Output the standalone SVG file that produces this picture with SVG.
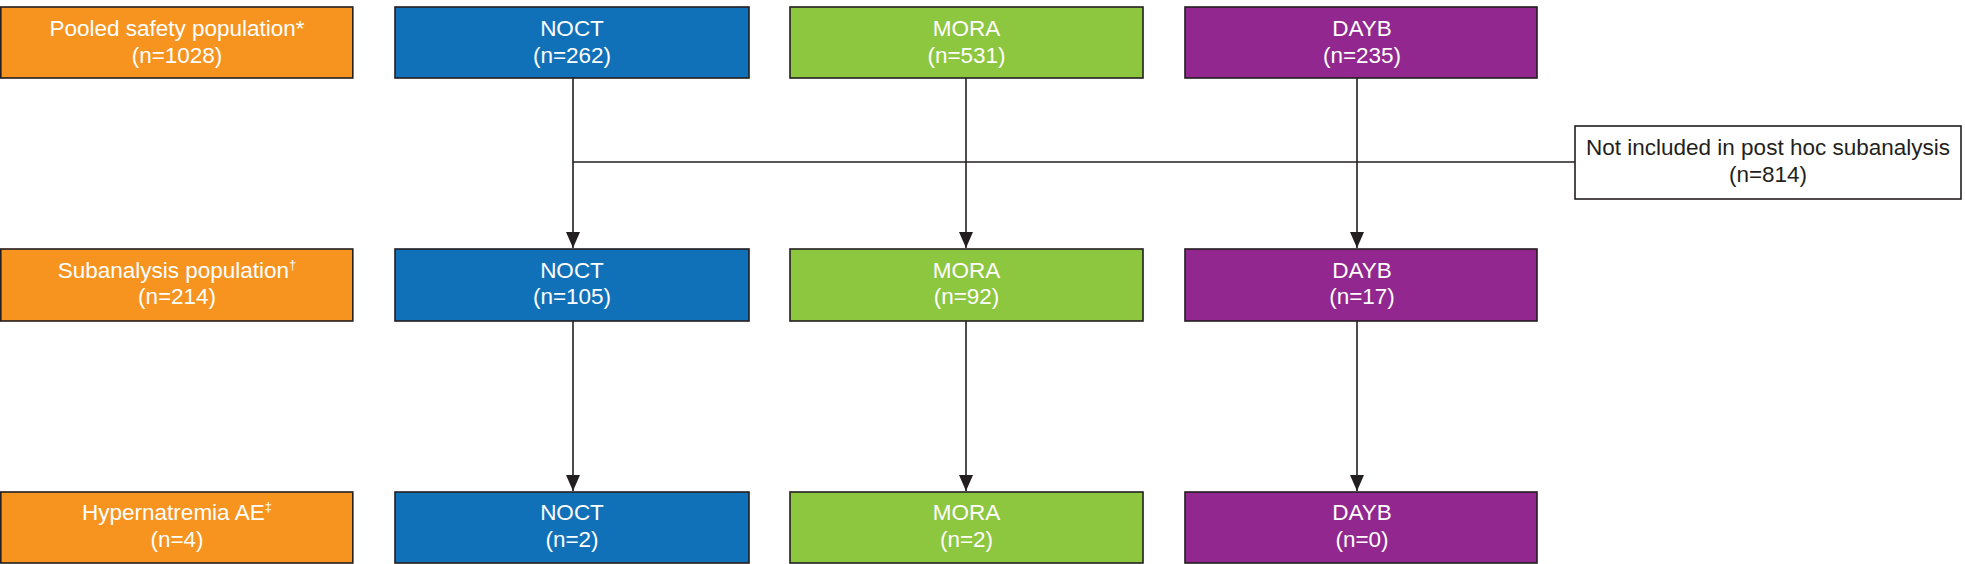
<svg xmlns="http://www.w3.org/2000/svg" width="1965" height="564" viewBox="0 0 1965 564">
<defs>
<style>
.box{stroke:#231f20;stroke-width:1.6}
.or{fill:#f6941f}
.bl{fill:#1071b9}
.gr{fill:#8dc63f}
.pu{fill:#92278f}
.wh{fill:#ffffff}
text{font-family:"Liberation Sans",Arial,sans-serif;font-size:22.5px;text-anchor:middle}
.lt{fill:#ffffff}
.dk{fill:#231f20}
.sup{font-size:13px}
.conn{stroke:#231f20;stroke-width:1.6;fill:none}
</style>
<marker id="arr" viewBox="0 0 16 14" refX="16" refY="7" markerWidth="16" markerHeight="14" markerUnits="userSpaceOnUse" orient="auto">
<path d="M0,0 L16,7 L0,14 Z" fill="#231f20"/>
</marker>
</defs>
<g id="connectors">
<line class="conn" x1="573" y1="78" x2="573" y2="248" marker-end="url(#arr)"/>
<line class="conn" x1="966" y1="78" x2="966" y2="248" marker-end="url(#arr)"/>
<line class="conn" x1="1357" y1="78" x2="1357" y2="248" marker-end="url(#arr)"/>
<line class="conn" x1="573" y1="162" x2="1575" y2="162"/>
<line class="conn" x1="573" y1="321" x2="573" y2="491" marker-end="url(#arr)"/>
<line class="conn" x1="966" y1="321" x2="966" y2="491" marker-end="url(#arr)"/>
<line class="conn" x1="1357" y1="321" x2="1357" y2="491" marker-end="url(#arr)"/>
</g>
<g id="pooled">
<rect class="box or" x="0.8" y="7" width="352" height="71"/>
<text class="lt" x="177" y="36">Pooled safety population*</text>
<text class="lt" x="177" y="62.5">(n=1028)</text>
</g>
<g id="noct1">
<rect class="box bl" x="395" y="7" width="354" height="71"/>
<text class="lt" x="572" y="36">NOCT</text>
<text class="lt" x="572" y="62.5">(n=262)</text>
</g>
<g id="mora1">
<rect class="box gr" x="790" y="7" width="353" height="71"/>
<text class="lt" x="966.5" y="36">MORA</text>
<text class="lt" x="966.5" y="62.5">(n=531)</text>
</g>
<g id="dayb1">
<rect class="box pu" x="1185" y="7" width="352" height="71"/>
<text class="lt" x="1362" y="36">DAYB</text>
<text class="lt" x="1362" y="62.5">(n=235)</text>
</g>
<g id="excluded">
<rect class="box wh" x="1575" y="126" width="386" height="73"/>
<text class="dk" x="1768" y="155">Not included in post hoc subanalysis</text>
<text class="dk" x="1768" y="182">(n=814)</text>
</g>
<g id="subanalysis">
<rect class="box or" x="0.8" y="249" width="352" height="72"/>
<text class="lt" x="177" y="278">Subanalysis population<tspan class="sup" dy="-9">†</tspan></text>
<text class="lt" x="177" y="304">(n=214)</text>
</g>
<g id="noct2">
<rect class="box bl" x="395" y="249" width="354" height="72"/>
<text class="lt" x="572" y="278">NOCT</text>
<text class="lt" x="572" y="304">(n=105)</text>
</g>
<g id="mora2">
<rect class="box gr" x="790" y="249" width="353" height="72"/>
<text class="lt" x="966.5" y="278">MORA</text>
<text class="lt" x="966.5" y="304">(n=92)</text>
</g>
<g id="dayb2">
<rect class="box pu" x="1185" y="249" width="352" height="72"/>
<text class="lt" x="1362" y="278">DAYB</text>
<text class="lt" x="1362" y="304">(n=17)</text>
</g>
<g id="hyper">
<rect class="box or" x="0.8" y="492" width="352" height="71"/>
<text class="lt" x="177" y="520">Hypernatremia AE<tspan class="sup" dy="-9">‡</tspan></text>
<text class="lt" x="177" y="547">(n=4)</text>
</g>
<g id="noct3">
<rect class="box bl" x="395" y="492" width="354" height="71"/>
<text class="lt" x="572" y="520">NOCT</text>
<text class="lt" x="572" y="547">(n=2)</text>
</g>
<g id="mora3">
<rect class="box gr" x="790" y="492" width="353" height="71"/>
<text class="lt" x="966.5" y="520">MORA</text>
<text class="lt" x="966.5" y="547">(n=2)</text>
</g>
<g id="dayb3">
<rect class="box pu" x="1185" y="492" width="352" height="71"/>
<text class="lt" x="1362" y="520">DAYB</text>
<text class="lt" x="1362" y="547">(n=0)</text>
</g>
</svg>
